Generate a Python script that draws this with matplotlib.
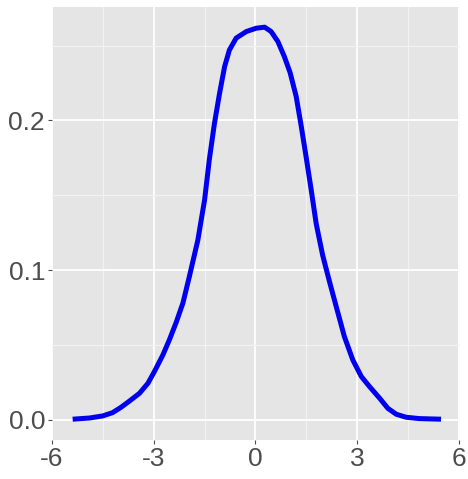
import numpy as np
import matplotlib.pyplot as plt
from matplotlib.ticker import MultipleLocator

# density curve
x = [-5.39, -4.89, -4.50, -4.21, -3.96, -3.71, -3.42, -3.17, -2.98, -2.73,
     -2.54, -2.34, -2.14, -1.95, -1.70, -1.50, -1.36, -1.21, -1.06, -0.91,
     -0.77, -0.57, -0.27, 0.02, 0.27, 0.46, 0.66, 0.85, 1.02, 1.20,
     1.35, 1.49, 1.64, 1.79, 1.98, 2.18, 2.38, 2.62, 2.87, 3.12,
     3.36, 3.66, 3.90, 4.15, 4.44, 4.83, 5.47]
density = [0.0005, 0.0013, 0.0027, 0.0049, 0.0085, 0.0127, 0.0178, 0.0245, 0.0323, 0.0434,
           0.0534, 0.065, 0.078, 0.0957, 0.120, 0.147, 0.174, 0.198, 0.218, 0.236,
           0.247, 0.255, 0.2594, 0.2616, 0.2623, 0.2594, 0.2527, 0.2427, 0.232, 0.216,
           0.196, 0.176, 0.154, 0.131, 0.110, 0.0925, 0.0757, 0.0557, 0.040, 0.029,
           0.0223, 0.0145, 0.0078, 0.0038, 0.0018, 0.0009, 0.0005]

xticks = [-6, -3, 0, 3, 6]
xticklabels = ['-6', '-3', '0', '3', '6']
yticks = [0.0, 0.1, 0.2]
yticklabels = ['0.0', '0.1', '0.2']

plt.rcParams['font.family'] = ['Liberation Sans', 'DejaVu Sans']

fig = plt.figure(figsize=(4.68, 4.79), dpi=100)
ax = fig.add_axes([0.111, 0.0814, 0.872, 0.905])
ax.set_facecolor('#E5E5E5')

ax.plot(x, density, color='#0000EE', lw=3.6, solid_capstyle='butt',
        solid_joinstyle='round', zorder=3)

ax.set_xlim(-6.0, 6.03)
ax.set_ylim(-0.0134, 0.2761)
ax.set_xticks(xticks)
ax.set_xticklabels(xticklabels)
ax.set_yticks(yticks)
ax.set_yticklabels(yticklabels)
ax.xaxis.set_minor_locator(MultipleLocator(1.5))
ax.yaxis.set_minor_locator(MultipleLocator(0.05))

ax.grid(which='major', color='white', lw=1.3)
ax.grid(which='minor', color='#F2F2F2', lw=0.9)
ax.set_axisbelow(True)

for s in ax.spines.values():
    s.set_visible(False)

ax.tick_params(which='major', length=3, width=0.8, color='#4D4D4D',
               labelsize=19, labelcolor='#4D4D4D', pad=2)
ax.tick_params(which='minor', length=0)

fig.savefig('out.png', dpi=100)
